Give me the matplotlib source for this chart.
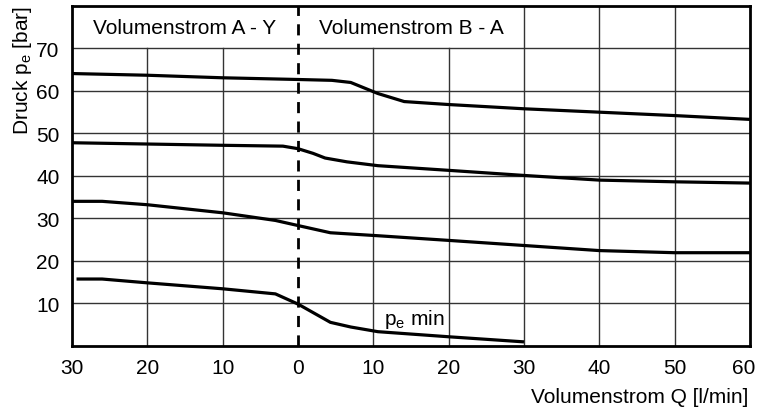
import matplotlib
matplotlib.use("Agg")
import matplotlib.pyplot as plt
import matplotlib.transforms as mtransforms

plt.rcParams['font.family'] = ['Liberation Sans', 'DejaVu Sans']

q1 = [-30, -20, -10, 0, 4.5, 7, 10.6, 14.1, 20, 30, 40, 50, 60]
p1 = [64.1, 63.7, 63.1, 62.7, 62.5, 62.0, 59.4, 57.5, 56.8, 55.8, 55.0, 54.2, 53.3]

q2 = [-30, -20, -10, -2, 0, 2, 3.6, 6.5, 10.6, 20, 30, 40, 50, 60]
p2 = [47.8, 47.5, 47.2, 47.0, 46.4, 45.3, 44.2, 43.3, 42.4, 41.3, 40.1, 39.0, 38.6, 38.3]

q3 = [-30, -26, -20, -10, -3, 0, 4.3, 10.6, 20, 30, 40, 50, 60]
p3 = [34.0, 34.0, 33.2, 31.3, 29.5, 28.3, 26.6, 25.9, 24.8, 23.6, 22.4, 21.9, 21.9]

q4 = [-29.4, -26, -20, -10, -3, 0, 4.3, 7, 10.6, 20, 30]
p4 = [15.7, 15.7, 14.8, 13.4, 12.2, 9.8, 5.5, 4.4, 3.3, 2.1, 0.9]

xticks = [-30, -20, -10, 0, 10, 20, 30, 40, 50, 60]
xticklabels = ['30', '20', '10', '0', '10', '20', '30', '40', '50', '60']
yticks = [10, 20, 30, 40, 50, 60, 70]

fs = 15

fig = plt.figure(figsize=(7.58, 4.14), dpi=100)
ax = fig.add_axes([0.095, 0.1626, 0.8944, 0.8204])
ax.set_xlim(-30, 60)
ax.set_ylim(0, 80)

gc = '#333333'
for x in [-20, -10, 10, 20]:
    ax.plot([x, x], [0, 70], color=gc, lw=1.0, zorder=1)
for x in [30, 40, 50]:
    ax.plot([x, x], [0, 80], color=gc, lw=1.0, zorder=1)
for y in yticks:
    ax.axhline(y, color=gc, lw=1.0, zorder=1)
ax.plot([0, 0], [0, 80], color='black', lw=2.0, ls=(0, (4, 3)), zorder=3)

for q, p in [(q1, p1), (q2, p2), (q3, p3), (q4, p4)]:
    ax.plot(q, p, color='black', lw=2.3, zorder=4, solid_capstyle='butt')

ax.text(-15, 75, 'Volumenstrom A - Y', ha='center', va='center', fontsize=fs)
ax.text(15, 75, 'Volumenstrom B - A', ha='center', va='center', fontsize=fs)
ax.text(15.4, 6.3, r'p$_\mathregular{e}$ min', ha='center', va='center', fontsize=fs)

ax.set_xticks(xticks)
ax.set_xticklabels(xticklabels)
ax.set_yticks(yticks)
ax.tick_params(axis='y', length=0, labelsize=fs, pad=9)
ax.tick_params(axis='x', length=0, labelsize=fs, pad=9)
for s in ax.spines.values():
    s.set_linewidth(2.0)
    s.set_color('black')

last = ax.get_xticklabels()[-1]
last.set_transform(last.get_transform() + mtransforms.ScaledTranslation(-0.06, 0, fig.dpi_scale_trans))

fig.text(0.03, 0.83, r'Druck p$_\mathregular{e}$ [bar]', rotation=90, ha='center', va='center', fontsize=fs)
fig.text(0.987, 0.04, 'Volumenstrom Q [l/min]', ha='right', va='center', fontsize=fs)

fig.savefig('out.png', dpi=100)
